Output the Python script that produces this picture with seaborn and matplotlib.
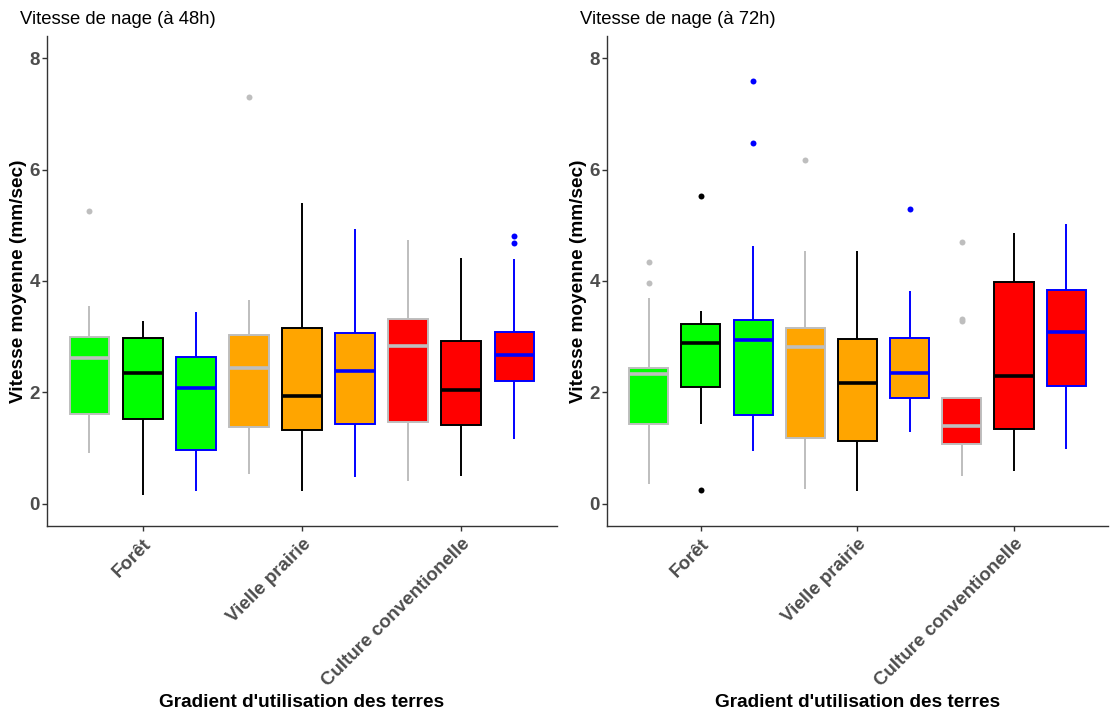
import pandas as pd
import matplotlib
matplotlib.use("Agg")
import matplotlib.pyplot as plt
import seaborn as sns

categories = ["Forêt", "Vielle prairie", "Culture conventionelle"]
lots = ["Lot 1", "Lot 2", "Lot 3"]

fill_colors = ["#00FF00", "#FFA500", "#FF0000"]
edge_colors = ["#BEBEBE", "#000000", "#0000FF"]

# box summaries, order: Forêt (lot 1,2,3), Vielle prairie, Culture
lo_48 = [0.91, 0.16, 0.23, 0.53, 0.22, 0.48, 0.41, 0.50, 1.17]
q1_48 = [1.62, 1.53, 0.96, 1.38, 1.33, 1.44, 1.47, 1.41, 2.21]
med_48 = [2.61, 2.35, 2.07, 2.43, 1.93, 2.39, 2.84, 2.04, 2.67]
q3_48 = [3.00, 2.97, 2.63, 3.03, 3.16, 3.06, 3.32, 2.92, 3.09]
hi_48 = [3.55, 3.28, 3.45, 3.66, 5.40, 4.93, 4.74, 4.42, 4.39]
out_48 = [[5.25], [], [], [7.31], [], [], [], [], [4.69, 4.81]]

lo_72 = [0.36, 1.44, 0.95, 0.27, 0.22, 1.28, 0.49, 0.59, 0.99]
q1_72 = [1.44, 2.10, 1.59, 1.18, 1.13, 1.89, 1.08, 1.35, 2.11]
med_72 = [2.33, 2.88, 2.94, 2.81, 2.17, 2.35, 1.40, 2.29, 3.09]
q3_72 = [2.43, 3.22, 3.30, 3.15, 2.95, 2.97, 1.90, 3.99, 3.83]
hi_72 = [3.69, 3.47, 4.63, 4.53, 4.54, 3.82, 1.90, 4.87, 5.03]
out_72 = [[3.97, 4.35], [0.25, 5.52], [6.48, 7.59], [6.17], [], [5.30],
          [3.28, 3.32, 4.70], [], []]


def make_frame(lo, q1, med, q3, hi, out):
    rows = []
    for i in range(len(lo)):
        cat = categories[i // 3]
        lot = lots[i % 3]
        vals = [lo[i]] + [q1[i]] * 10 + [med[i]] * 10 + [q3[i]] * 10 + [hi[i]] + out[i]
        for v in vals:
            rows.append((cat, lot, v))
    return pd.DataFrame(rows, columns=["habitat", "lot", "vitesse"])


def recolor(ax):
    for patch in ax.patches:
        xs = patch.get_path().vertices[:, 0]
        c = (xs.min() + xs.max()) / 2
        cat = int(round(c))
        h = int(round((c - cat) * 3)) + 1
        patch.set_facecolor(fill_colors[cat])
        patch.set_edgecolor(edge_colors[h])
    for line in ax.lines:
        xd = line.get_xdata()
        if len(xd) == 0:
            continue
        c = sum(xd) / len(xd)
        cat = int(round(c))
        h = int(round((c - cat) * 3)) + 1
        line.set_color(edge_colors[h])
        line.set_markerfacecolor(edge_colors[h])
        line.set_markeredgecolor(edge_colors[h])


sns.set_theme(style="ticks")
plt.rcParams["font.family"] = ["Liberation Sans", "DejaVu Sans"]

fig = plt.figure(figsize=(11.1, 7.13), dpi=100)
ax1 = fig.add_axes([0.0423, 0.2623, 0.4595, 0.6872])
ax2 = fig.add_axes([0.5468, 0.2623, 0.4514, 0.6872])

panels = [
    (ax1, make_frame(lo_48, q1_48, med_48, q3_48, hi_48, out_48), "Vitesse de nage (à 48h)"),
    (ax2, make_frame(lo_72, q1_72, med_72, q3_72, hi_72, out_72), "Vitesse de nage (à 72h)"),
]

for ax, df, title in panels:
    sns.boxplot(data=df, x="habitat", y="vitesse", hue="lot", order=categories,
                hue_order=lots, width=1.0, gap=0.25, dodge=True, legend=False,
                linewidth=1.4, showcaps=False,
                medianprops=dict(linewidth=2.6),
                flierprops=dict(marker="o", markersize=4.3, markeredgewidth=0),
                ax=ax)
    recolor(ax)

    ax.set_xlim(-0.6, 2.6)
    ax.set_ylim(-0.4, 8.4)
    ax.set_yticks([0, 2, 4, 6, 8])
    sns.despine(ax=ax)
    for s in ["left", "bottom"]:
        ax.spines[s].set_color("#333333")
        ax.spines[s].set_linewidth(1.0)
    ax.tick_params(axis="both", colors="#333333", length=3.5, width=1.0,
                   labelcolor="#4D4D4D")
    ax.tick_params(axis="y", labelsize=13.5, pad=1.5)
    ax.tick_params(axis="x", labelsize=13.5)
    for lab in ax.get_yticklabels():
        lab.set_fontweight("bold")
    ax.set_xticks(range(len(categories)))
    ax.set_xticklabels(categories, rotation=45, ha="right", va="top",
                       rotation_mode="anchor", fontweight="bold")

    ax.set_ylabel("Vitesse moyenne (mm/sec)", fontsize=13.7, fontweight="bold",
                  color="black")
    ax.yaxis.set_label_coords(-0.056, 0.5)
    ax.yaxis.label.set_va("center")
    ax.set_xlabel("Gradient d'utilisation des terres", fontsize=13.7,
                  fontweight="bold", color="black")
    ax.xaxis.set_label_coords(0.5, -0.361)
    ax.xaxis.label.set_va("center")

    ax.text(-0.053, 1.034, title, transform=ax.transAxes, fontsize=13.3,
            ha="left", va="center", color="black")

fig.savefig("out.png", dpi=100)
